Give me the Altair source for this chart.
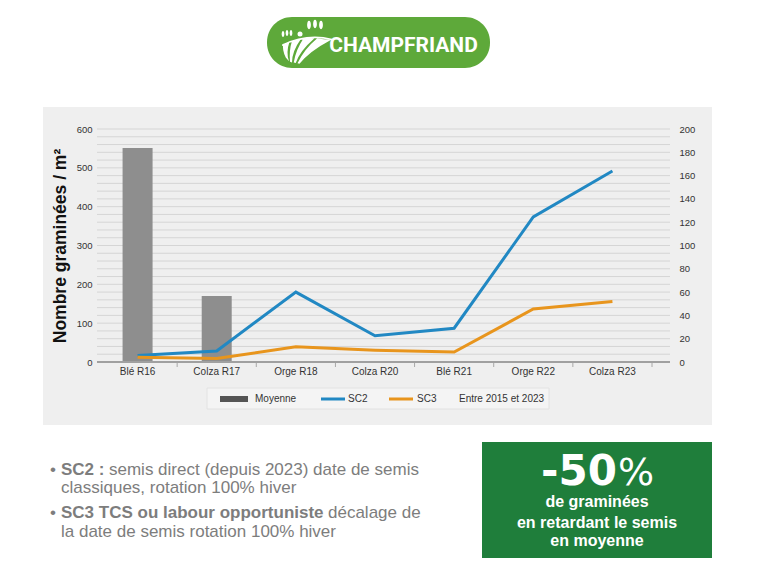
import altair as alt
import pandas as pd

# ---------------- data ----------------
categories = ["Blé R16", "Colza R17", "Orge R18", "Colza R20", "Blé R21", "Orge R22", "Colza R23"]
moyenne = [551, 170, None, None, None, None, None]
sc2 = [5.5, 9.5, 60, 22.5, 29, 124.5, 164]
sc3 = [4, 3, 13, 10, 8.5, 45.5, 52]
left_ticks = [0, 100, 200, 300, 400, 500, 600]
right_ticks = [0, 20, 40, 60, 80, 100, 120, 140, 160, 180, 200]
grid_values = list(range(0, 620, 20))
series_names = ["SC2", "SC3"]
legend_labels = ["Moyenne", "SC2", "SC3", "Entre 2015 et 2023"]

bars_df = pd.DataFrame({"cat": categories, "moyenne": moyenne})
lines_df = pd.DataFrame({
    "cat": categories * 2,
    "serie": ["SC2"] * len(categories) + ["SC3"] * len(categories),
    "v": sc2 + sc3,
})
grid_df = pd.DataFrame({"g": grid_values})
one = pd.DataFrame({"k": [0]})

# ---------------- style ----------------
W, H = 573, 233
FONT = "Liberation Sans"
BLUE = "#2188c3"
ORANGE = "#e8951d"

x_scale = alt.Scale(domain=categories, range=[1, 555], paddingInner=0, paddingOuter=0)
left_scale = alt.Scale(domain=[0, 600], nice=False)
right_scale = alt.Scale(domain=[0, 200], nice=False)

x_axis = alt.Axis(title=None, domain=False, ticks=False, grid=False, labelAngle=0,
                  labelFont=FONT, labelFontSize=10, labelColor="#333333", labelPadding=4,
                  zindex=1)
left_axis = alt.Axis(values=left_ticks, title="Nombre graminées / m²", domain=False, ticks=False,
                     grid=False, labelFont=FONT, labelFontSize=9.5, labelColor="#333333",
                     labelPadding=5, titleFont=FONT, titleFontSize=17.5, titleFontWeight="bold",
                     titleColor="#111111", titleAngle=-90, titleX=-37, titleY=H / 2,
                     titleBaseline="middle", titleAlign="center", zindex=1)
right_axis = alt.Axis(values=right_ticks, orient="right", title=None, domain=False, ticks=False,
                      grid=False, labelFont=FONT, labelFontSize=9.5, labelColor="#333333",
                      labelPadding=9, zindex=1)


def rect(x, x2, y, y2, color, **kw):
    return alt.Chart(one).mark_rect(color=color, **kw).encode(
        x=alt.value(x), x2=alt.value(x2), y=alt.value(y), y2=alt.value(y2))


def txt(s, x, y, size, color, weight="normal", align="left", font=FONT, baseline="alphabetic"):
    return alt.Chart(one).mark_text(font=font, fontSize=size, fontWeight=weight, color=color,
                                    align=align, baseline=baseline).encode(
        x=alt.value(x), y=alt.value(y), text=alt.value(s))


def hline(x, x2, y, color, width):
    return alt.Chart(one).mark_rule(color=color, strokeWidth=width).encode(
        x=alt.value(x), x2=alt.value(x2), y=alt.value(y))


def sym(x, y, shape, size, color="white"):
    return alt.Chart(one).mark_point(filled=True, opacity=1, strokeWidth=0, color=color).encode(
        x=alt.value(x), y=alt.value(y), shape=alt.value(shape), size=alt.value(size))


# ---------------- chart layers ----------------
panel = rect(-54, 615, -22, 296, "#efefef")

grid = alt.Chart(grid_df).mark_rule(color="#d5d5d5", strokeWidth=1).encode(
    x=alt.value(0), x2=alt.value(W),
    y=alt.Y("g:Q", scale=left_scale, axis=left_axis))

bars = alt.Chart(bars_df).mark_bar(color="#8e8e8e", size=30).encode(
    x=alt.X("cat:N", scale=x_scale, sort=categories, axis=x_axis),
    y=alt.Y("moyenne:Q", scale=left_scale, axis=left_axis))

left_layer = alt.layer(grid, bars)

lines = alt.Chart(lines_df).mark_line(strokeWidth=3).encode(
    x=alt.X("cat:N", scale=x_scale, sort=categories, axis=x_axis, bandPosition=0.5),
    y=alt.Y("v:Q", scale=right_scale, axis=right_axis),
    color=alt.Color("serie:N", scale=alt.Scale(domain=series_names, range=[BLUE, ORANGE]),
                    legend=None),
    detail="serie:N")

ticks = alt.Chart(bars_df).mark_rule(color="#a8a8a8", strokeWidth=1).encode(
    x=alt.X("cat:N", scale=x_scale, sort=categories, axis=x_axis, bandPosition=1),
    y=alt.value(H), y2=alt.value(H + 5))

axis_line = hline(0, W, H, "#a0a0a0", 2)

# legend
legend_box = rect(110, 452, 259, 280, "#f4f4f4", stroke="#e2e2e2", strokeWidth=1)
legend_layers = [
    legend_box,
    rect(123, 151, 267, 273, "#555555"),
    txt(legend_labels[0], 158, 270, 10, "#333333", baseline="middle"),
    hline(224, 248, 270, BLUE, 3),
    txt(legend_labels[1], 251, 270, 10, "#333333", baseline="middle"),
    hline(292, 316, 270, ORANGE, 3),
    txt(legend_labels[2], 320, 270, 10, "#333333", baseline="middle"),
    txt(legend_labels[3], 362, 270, 10, "#333333", baseline="middle"),
]

# logo
field_path = ("M -0.95,-0.25 L -0.7,-0.33 Q -0.85,0.1 -0.72,0.45 L -0.85,0.3 Q -1.0,0.0 -0.95,-0.25 Z "
              "M -0.6,-0.36 L -0.25,-0.43 Q -0.6,0.05 -0.6,0.5 L -0.68,0.47 Q -0.72,0.0 -0.6,-0.36 Z "
              "M -0.15,-0.45 L 0.3,-0.47 Q -0.3,0.05 -0.45,0.52 L -0.53,0.5 Q -0.45,0.0 -0.15,-0.45 Z "
              "M 0.4,-0.46 L 0.95,-0.4 Q 0.1,0.05 -0.3,0.55 L -0.38,0.53 Q -0.1,-0.05 0.4,-0.46 Z "
              "M -1,-0.22 Q 0,-0.7 1,-0.45 L 1,-0.39 Q 0,-0.62 -1,-0.16 Z")
tree_path = "M0,-1 C0.6,-1 0.6,1 0,1 C-0.6,1 -0.6,-1 0,-1 Z"
logo_layers = [
    rect(170, 393, -112, -61, "#5ea93a", cornerRadius=25),
    sym(210, -79, field_path, 2500),
    sym(203, -95, "circle", 25),
    sym(186, -95, tree_path, 36),
    sym(190, -96, tree_path, 36),
    sym(194, -96, tree_path, 36),
    sym(212, -104, tree_path, 70),
    sym(218, -105, tree_path, 70),
    sym(224, -104, tree_path, 70),
    txt("CHAMPFRIAND", 306.5, -77, 21, "white", weight="bold", align="center", font="Roboto"),
]

# bottom notes
GRAY = "#7d7d7d"
note_layers = [
    txt("•", -47, 346, 17, GRAY),
    txt("SC2 :", -36, 346, 17, GRAY, weight="bold"),
    txt("semis direct (depuis 2023) date de semis", 12, 346, 17, GRAY),
    txt("classiques, rotation 100% hiver", -36, 364, 17, GRAY),
    txt("•", -47, 389, 17, GRAY),
    txt("SC3 TCS ou labour opportuniste", -36, 389, 17, GRAY, weight="bold"),
    txt("décalage de", 231, 389, 17, GRAY),
    txt("la date de semis rotation 100% hiver", -36, 408, 17, GRAY),
]

# green box
box_layers = [
    rect(385, 615, 313, 429, "#1f7e3b"),
    txt("-50", 520, 356, 42, "white", weight="bold", align="right", font="DejaVu Sans"),
    txt("%", 521, 356, 38, "white", align="left", font="DejaVu Sans"),
    txt("de graminées", 500, 378, 16, "white", weight="bold", align="center"),
    txt("en retardant le semis", 500, 399, 16, "white", weight="bold", align="center"),
    txt("en moyenne", 500, 417, 16, "white", weight="bold", align="center"),
]

chart = alt.layer(
    panel, left_layer, lines, ticks, axis_line,
    *legend_layers, *logo_layers, *note_layers, *box_layers
).resolve_scale(y="independent").properties(
    width=W, height=H,
    autosize=alt.AutoSizeParams(type="none"),
    padding={"left": 89, "top": 121, "right": 90, "bottom": 206},
    background="white",
).configure_view(stroke=None)

chart.save("out.html", embed_options={"renderer": "svg", "actions": False})
